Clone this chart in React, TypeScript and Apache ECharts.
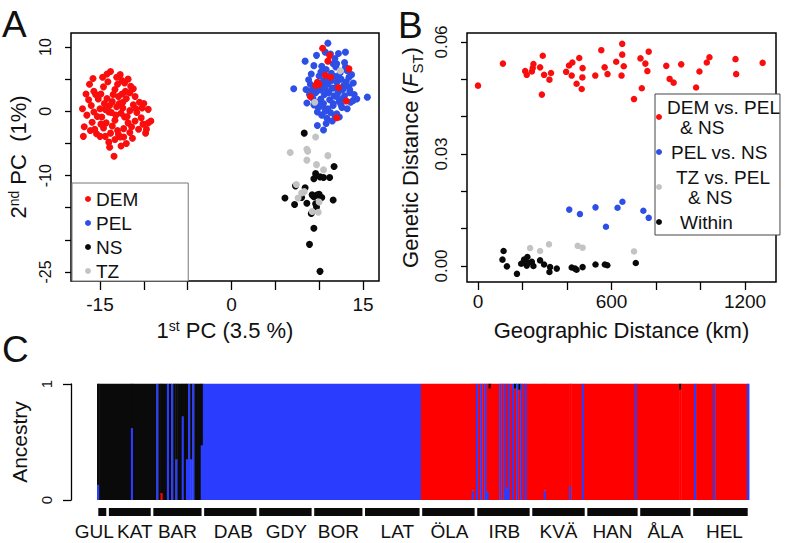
import React, { useEffect, useRef } from 'react';
import * as echarts from 'echarts';

const FONT = "'Liberation Sans', Arial, Helvetica, sans-serif";
const TXT = '#111111';
const RED = '#f90d0d';
const BLUE = '#2e4fe6';
const BLACK = '#0a0a0a';
const GREY = '#c2c4c4';
const BAR_BLUE = '#2a3dff';
const BAR_RED = '#ff0000';
const BAR_BLACK = '#0a0a0a';

// ---------- Panel A: PCA ----------
const pcDEM: number[][] = [
  [-13.8, 6.2], [-12.7, 5.7], [-12.5, 4.8], [-15.8, 5.1], [-16.2, 4.2], [-15.7, 3.1], [-17.0, 0.4], [-16.8, -2.4],
  [-16.9, -3.9], [-13.4, -7.0], [-14.0, -4.8], [-11.2, 3.5], [-10.0, 1.2], [-9.2, -1.5], [-9.5, -1.8], [-9.7, -2.8],
  [-9.8, -3.4], [-12.3, -4.0], [-15.4, -3.5], [-15.0, -3.9], [-15.9, -1.7], [-12.3, -2.7], [-12.7, -4.0], [-11.4, -2.4],
  [-10.3, -1.0], [-10.5, 1.4], [-11.6, 2.9], [-14.6, 3.8], [-13.3, 3.4], [-14.2, 2.0], [-16.3, 1.8], [-15.7, -0.1],
  [-14.8, -0.9], [-14.0, -0.1], [-13.1, 0.7], [-12.4, 1.4], [-11.6, 0.1], [-12.2, -0.9], [-13.3, -1.4], [-13.6, 1.5],
  [-12.9, 2.3], [-12.0, 2.0], [-11.2, 1.0], [-10.8, -0.2], [-11.0, -1.5], [-11.8, -1.8], [-12.6, -0.3], [-13.9, 0.9],
  [-14.5, 1.2], [-15.2, 1.9], [-15.0, 0.4], [-14.3, -1.8], [-13.6, -2.3], [-13.0, -3.0], [-12.9, -3.6], [-13.8, -3.4],
  [-14.6, -2.6], [-15.3, -0.8], [-16.0, 0.9], [-16.5, -0.6], [-11.5, 3.9], [-12.1, 3.1], [-13.0, 4.2], [-14.1, 4.6],
  [-14.9, 2.7], [-13.5, 2.6], [-12.4, 0.5], [-11.9, -0.8], [-10.9, 0.4], [-10.1, -2.0], [-10.6, -2.8], [-11.6, -3.3],
  [-12.0, -5.0], [-13.3, -4.4], [-14.4, -3.9], [-14.9, -2.0], [-13.2, -0.6], [-12.8, 1.2], [-13.7, -0.2], [-14.4, 0.3],
  [-12.5, 2.7], [-11.0, 2.3], [-15.5, 2.6], [-14.7, 5.3], [-13.1, 5.3], [-12.2, 4.4], [-16.6, 2.7], [-15.6, -2.8],
  [-11.3, -4.2], [-9.5, 0.3], [-10.2, 0.5], [-13.9, -5.6], [-12.6, -5.4], [-16.1, -3.0], [-14.2, 5.8], [-11.8, 5.0],
  [10.4, 9.8], [11.2, 8.7], [11.0, 7.8], [9.8, 4.5], [10.0, 4.2], [9.0, 2.3], [10.7, 5.6], [11.3, 5.3],
  [12.2, 3.7], [13.4, 6.6], [13.1, 1.6], [12.0, -1.0], [9.6, 4.0],
];
const pcPEL: number[][] = [
  [11.0, 10.6], [9.7, 8.7], [8.4, 7.8], [12.2, 9.0], [13.0, 9.2], [9.4, 7.1], [7.1, 3.5], [15.5, 2.2],
  [8.6, 1.3], [13.9, 1.7], [13.4, 3.8], [9.8, -0.1], [10.3, -0.6], [10.9, -1.1], [11.5, -1.5], [9.8, -2.2],
  [10.5, -2.9], [8.8, 4.9], [9.0, 4.2], [11.8, 8.2], [13.0, 6.9], [13.4, 5.3], [13.2, 6.3], [11.9, 6.9],
  [11.6, 7.4], [10.0, 5.5], [10.5, 4.8], [11.0, 4.2], [11.5, 3.6], [12.0, 4.5], [12.5, 5.0], [12.8, 4.0],
  [12.2, 3.0], [11.7, 2.4], [11.2, 1.8], [10.6, 2.6], [10.1, 3.3], [9.6, 2.9], [9.3, 2.0], [9.9, 1.4],
  [10.4, 0.8], [11.0, 0.4], [11.6, 0.9], [12.3, 1.5], [12.9, 2.4], [13.5, 2.9], [12.6, 0.6], [12.0, -0.4],
  [11.3, -0.2], [10.7, 0.0], [10.2, 1.9], [9.5, 3.8], [10.3, 4.0], [10.9, 3.1], [11.4, 4.8], [11.9, 5.4],
  [12.4, 6.0], [12.7, 3.4], [13.1, 4.6], [12.1, 2.2], [11.1, 2.9], [10.6, 3.7], [9.2, 3.3], [8.9, 2.6],
  [8.5, 3.4], [12.5, 1.0], [13.6, 1.4], [14.3, 1.9], [14.0, 2.6], [13.9, 4.4], [12.0, 7.4], [10.8, 6.5],
  [10.3, 7.0], [10.2, 6.1], [12.9, 7.6], [11.4, 5.9], [12.3, -0.9], [11.8, -0.7], [9.9, 0.6], [9.4, 1.0],
  [13.2, 0.4], [13.7, 5.7], [10.7, 9.2], [11.3, 8.9], [9.1, 5.8], [11.6, 1.2], [12.8, 2.0], [11.0, 5.0],
  [10.5, 1.2], [12.2, 5.4], [13.5, 3.3], [10.8, -1.9], [11.9, 3.6],
];
const pcNS: number[][] = [
  [8.3, -3.4], [11.7, -8.6], [9.6, -9.7], [9.4, -10.5], [10.1, -10.2], [10.5, -10.3], [11.2, -10.3], [7.3, -11.6],
  [8.4, -11.9], [6.1, -13.5], [7.2, -14.5], [8.0, -13.4], [8.6, -14.3], [9.2, -13.0], [9.4, -13.3], [9.6, -14.4],
  [10.3, -13.4], [11.6, -13.8], [9.1, -15.9], [9.4, -18.2], [8.9, -20.7], [10.1, -24.9], [9.8, -13.0], [9.7, -14.9],
  [10.0, -12.9],
];
const pcTZ: number[][] = [
  [9.6, -4.0], [6.7, -6.4], [8.6, -5.9], [8.7, -6.2], [8.6, -7.6], [11.0, -6.9], [9.7, -8.3], [10.5, -9.1],
  [7.4, -11.4], [8.3, -12.5], [8.0, -12.7], [7.6, -13.5], [10.0, -14.1], [9.2, -15.6], [9.9, -15.7], [9.5, 1.4],
  [12.4, 6.3],
];
const pcXTicks = [-15, -10, -5, 0, 5, 10, 15];
const pcXLabels = [-15, 0, 15];
const pcYTicks = [-25, -20, -15, -10, -5, 0, 5, 10];
const pcYLabels = [-25, -10, 0, 10];

// ---------- Panel B: FST vs distance ----------
const fstDEM: number[][] = [
  [0, 0.0483], [112, 0.0542], [212, 0.0522], [219, 0.0512], [242, 0.0521], [249, 0.0541], [246, 0.053], [279, 0.0532],
  [291, 0.0563], [287, 0.0459], [297, 0.0512], [321, 0.0499], [328, 0.0517], [396, 0.052], [409, 0.0537], [424, 0.0545],
  [421, 0.051], [443, 0.0488], [455, 0.0557], [466, 0.0474], [470, 0.053], [469, 0.0505], [527, 0.051], [554, 0.0578],
  [569, 0.0532], [582, 0.0514], [621, 0.0547], [648, 0.0595], [648, 0.0566], [655, 0.0535], [645, 0.051], [701, 0.0447],
  [730, 0.0556], [736, 0.0476], [752, 0.0542], [761, 0.0522], [767, 0.0574], [846, 0.0536], [861, 0.0501], [879, 0.0491],
  [913, 0.054], [980, 0.0478], [995, 0.0521], [1028, 0.0545], [1040, 0.0559], [1157, 0.0554], [1160, 0.0514], [1279, 0.0544],
];
const fstPEL: number[][] = [
  [410, 0.0151], [458, 0.0139], [528, 0.0157], [575, 0.0105], [627, 0.0156], [649, 0.0172], [743, 0.0148], [767, 0.0129],
];
const fstTZ: number[][] = [
  [234, 0.0048], [279, 0.004], [319, 0.0058], [448, 0.0054], [470, 0.0049], [701, 0.0039],
];
const fstWithin: number[][] = [
  [115, 0.004], [110, 0.0017], [130, -0.0001], [175, -0.0021], [194, 0.0006], [207, 0.0017], [222, 0.0024], [219, 0.0001],
  [242, 0.0011], [249, 0.0], [279, 0.0015], [297, 0.0004], [324, -0.0003], [321, -0.0016], [354, -0.0007], [421, -0.0004],
  [436, -0.0007], [443, -0.001], [470, -0.0003], [528, 0.0004], [570, 0.0004], [581, 0.0002], [709, 0.0008], [204, 0.001],
  [226, 0.0008],
];
const kmTicks = [0, 200, 400, 600, 800, 1000, 1200];
const kmLabels = [0, 600, 1200];
const fstTicks = [0, 0.01, 0.02, 0.03, 0.04, 0.05, 0.06];
const fstLabels = [0, 0.03, 0.06];

// ---------- Panel C: ancestry ----------
const popNames = ['GUL', 'KAT', 'BAR', 'DAB', 'GDY', 'BOR', 'LAT', 'ÖLA', 'IRB', 'KVÄ', 'HAN', 'ÅLA', 'HEL'];
const popSizes = [5, 21, 24, 26, 26, 24, 27, 26, 26, 26, 25, 25, 27];
// runs of consecutive individuals: [count, PEL (blue), DEM (red), NS (black)]
const ancestryRuns: number[][] = [
  [1, 0.13, 0, 0.87], [15, 0, 0, 1], [1, 0.62, 0, 0.38], [11, 0, 0, 1], [1, 1, 0, 0], [1, 0, 0, 1],
  [1, 0, 0.06, 0.94], [2, 0, 0, 1], [1, 1, 0, 0], [1, 0, 0, 1], [1, 1, 0, 0], [1, 0, 0, 1],
  [1, 0.35, 0, 0.65], [2, 0, 0, 1], [1, 0.72, 0, 0.28], [1, 0, 0, 1], [1, 0.35, 0, 0.65], [1, 1, 0, 0],
  [1, 0.35, 0, 0.65], [1, 1, 0, 0], [3, 0, 0, 1], [1, 0.47, 0, 0.53],
  [103, 1, 0, 0],
  [24, 0, 1, 0], [1, 0.08, 0.92, 0], [1, 0, 1, 0], [1, 1, 0, 0], [1, 0, 1, 0], [1, 1, 0, 0], [1, 0, 1, 0],
  [1, 1, 0, 0], [1, 0.07, 0.93, 0], [1, 0, 0.96, 0.04], [4, 0, 1, 0], [1, 1, 0, 0], [1, 0, 1, 0], [1, 1, 0, 0],
  [1, 0.1, 0.9, 0], [1, 1, 0, 0], [1, 0, 1, 0], [1, 1, 0, 0], [1, 0, 0.96, 0.04], [1, 1, 0, 0], [1, 0, 0.95, 0.05],
  [1, 1, 0, 0], [1, 0, 1, 0], [1, 1, 0, 0], [8, 0, 1, 0], [1, 0.08, 0.92, 0], [11, 0, 1, 0], [1, 0.12, 0.88, 0],
  [5, 0, 1, 0], [1, 1, 0, 0], [24, 0, 1, 0], [1, 1, 0, 0], [20, 0, 1, 0], [1, 0, 0.95, 0.05], [6, 0, 1, 0],
  [1, 1, 0, 0], [8, 0, 1, 0], [1, 1, 0, 0], [15, 0, 1, 0], [1, 1, 0, 0],
];
const popLabelShift = [-8, 5, 0, 3, 1, 0, 5, 1, 1, 0, 0, 0, 4];

export default function App() {
  const ref = useRef<HTMLDivElement>(null);
  useEffect(() => {
    if (!ref.current) return;
    const chart = echarts.init(ref.current, null, { renderer: 'svg' });

    const total = popSizes.reduce((a, b) => a + b, 0);
    let s = 0;
    const ancestryData = ancestryRuns.map((r) => {
      const row = [s, s + r[0], r[1], r[2], r[3]];
      s += r[0];
      return row;
    });
    let g = 0;
    const popData = popSizes.map((n, i) => {
      const row = [g, g + n, i];
      g += n;
      return row;
    });

    const tickStyle = { color: '#000', width: 1.3 };
    const labelBase = { color: TXT, fontFamily: FONT };
    const richTitle = (size: number) => ({
      a: { fontSize: size, fontFamily: FONT, color: TXT, lineHeight: size },
      s: { fontSize: Math.round(size * 0.62), fontFamily: FONT, color: TXT, verticalAlign: 'top', lineHeight: size },
      i: { fontSize: size, fontFamily: FONT, color: TXT, fontStyle: 'italic', lineHeight: size },
      b: { fontSize: Math.round(size * 0.68), fontFamily: FONT, color: TXT, verticalAlign: 'bottom', lineHeight: size, padding: [0, 0, -4, 0] },
    });

    const legendB: Record<string, string> = {
      'DEM vs. PEL & NS': '{l0|DEM vs. PEL}\n{l2|& NS}',
      'PEL vs. NS': '{l1|PEL vs. NS}',
      'TZ vs. PEL & NS': '{l3|TZ vs. PEL}\n{l4|& NS}',
      Within: '{l5|Within}',
    };
    const lrich = (pad: number) => ({ fontSize: 19, lineHeight: 20, fontFamily: FONT, color: TXT, padding: [0, 0, 0, pad] });

    const option: any = {
      animation: false,
      backgroundColor: '#ffffff',
      grid: [
        { left: 71, top: 33, width: 308, height: 248, show: true, borderColor: '#000', borderWidth: 1.5, backgroundColor: 'transparent', containLabel: false, outerBoundsMode: 'none' },
        { left: 467, top: 33, width: 309, height: 249, show: true, borderColor: '#000', borderWidth: 1.5, backgroundColor: 'transparent', containLabel: false, outerBoundsMode: 'none' },
        { left: 97, top: 384, width: 652, height: 116, containLabel: false, outerBoundsMode: 'none' },
      ],
      xAxis: [
        {
          gridIndex: 0, type: 'value', min: -18.31, max: 16.83,
          splitLine: { show: false }, axisLine: { show: false, onZero: false },
          axisTick: { show: true, customValues: pcXTicks, length: 9, lineStyle: tickStyle },
          axisLabel: { customValues: pcXLabels, margin: 14, fontSize: 19, formatter: (v: number) => String(v), ...labelBase },
          name: '{a|1}{s|st}{a| PC (3.5 %)}', nameLocation: 'middle', nameGap: 38, nameMoveOverlap: false,
          nameTextStyle: { rich: richTitle(22) },
        },
        {
          gridIndex: 1, type: 'value', min: -49.4, max: 1339,
          splitLine: { show: false }, axisLine: { show: false, onZero: false },
          axisTick: { show: true, customValues: kmTicks, length: 8, lineStyle: tickStyle },
          axisLabel: { customValues: kmLabels, margin: 10, fontSize: 19, formatter: (v: number) => String(v), ...labelBase },
          name: 'Geographic Distance (km)', nameLocation: 'middle', nameGap: 37, nameMoveOverlap: false,
          nameTextStyle: { fontSize: 22, fontFamily: FONT, color: TXT },
        },
        { gridIndex: 2, type: 'value', min: 0, max: total, show: false },
      ],
      yAxis: [
        {
          gridIndex: 0, type: 'value', min: -26.4, max: 12.18,
          splitLine: { show: false }, axisLine: { show: false, onZero: false },
          axisTick: { show: true, customValues: pcYTicks, length: 6, lineStyle: tickStyle },
          axisLabel: { customValues: pcYLabels, margin: 18, fontSize: 16, rotate: 90, formatter: (v: number) => String(v), ...labelBase },
          name: '{a|2}{s|nd}{a| PC  (1%)}', nameLocation: 'middle', nameGap: 42, nameRotate: 90, nameMoveOverlap: false,
          nameTextStyle: { rich: richTitle(22) },
        },
        {
          gridIndex: 1, type: 'value', min: -0.00429, max: 0.0624,
          splitLine: { show: false }, axisLine: { show: false, onZero: false },
          axisTick: { show: true, customValues: fstTicks, length: 6, lineStyle: tickStyle },
          axisLabel: { customValues: fstLabels, margin: 17, fontSize: 17, rotate: 90, formatter: (v: number) => v.toFixed(2), ...labelBase },
          name: '{a|Genetic Distance (}{i|F}{b|ST}{a|)}', nameLocation: 'middle', nameGap: 46, nameRotate: 90, nameMoveOverlap: false,
          nameTextStyle: { rich: richTitle(22) },
        },
        {
          gridIndex: 2, type: 'value', min: 0, max: 1, interval: 1, offset: 26,
          splitLine: { show: false }, axisLine: { show: true, onZero: false, lineStyle: tickStyle },
          axisTick: { show: true, length: 8, lineStyle: tickStyle },
          axisLabel: { margin: 17, fontSize: 15, rotate: 90, ...labelBase },
          name: 'Ancestry', nameLocation: 'middle', nameGap: 41, nameRotate: 90, nameMoveOverlap: false,
          nameTextStyle: { fontSize: 21, fontFamily: FONT, color: TXT },
        },
      ],
      legend: [
        {
          data: ['DEM', 'PEL', 'NS', 'TZ'], orient: 'vertical', left: 72, top: 183,
          padding: [6, 50, 0, 13], itemGap: 4, itemWidth: 6, itemHeight: 6, icon: 'circle',
          textStyle: { fontSize: 19, lineHeight: 20, fontFamily: FONT, color: TXT },
          borderColor: '#777', borderWidth: 1, backgroundColor: '#ffffff', borderRadius: 0, selectedMode: false,
        },
        {
          data: ['DEM vs. PEL & NS', 'PEL vs. NS', 'TZ vs. PEL & NS', 'Within'], orient: 'vertical', left: 655, top: 94,
          padding: [3, 0, 3, 1], itemGap: 5, itemWidth: 6, itemHeight: 6, icon: 'circle',
          formatter: (name: string) => legendB[name] || name,
          textStyle: {
            fontSize: 19, lineHeight: 20, fontFamily: FONT, color: TXT,
            rich: { l0: lrich(0), l1: lrich(4), l2: lrich(13), l3: lrich(9), l4: lrich(21), l5: lrich(13) },
          },
          borderColor: '#444', borderWidth: 1, backgroundColor: '#ffffff', borderRadius: 0, selectedMode: false,
        },
      ],
      graphic: [
        { type: 'text', left: 2, top: 6, style: { text: 'A', fontSize: 37, fontFamily: FONT, fill: TXT } },
        { type: 'text', left: 398, top: 7, style: { text: 'B', fontSize: 37, fontFamily: FONT, fill: TXT } },
        { type: 'text', left: 2, top: 331, style: { text: 'C', fontSize: 37, fontFamily: FONT, fill: TXT } },
      ],
      series: [
        { type: 'scatter', name: 'PEL', xAxisIndex: 0, yAxisIndex: 0, data: pcPEL, symbolSize: 7, itemStyle: { color: BLUE, opacity: 1 }, silent: true },
        { type: 'scatter', name: 'NS', xAxisIndex: 0, yAxisIndex: 0, data: pcNS, symbolSize: 7, itemStyle: { color: BLACK, opacity: 1 }, silent: true },
        { type: 'scatter', name: 'TZ', xAxisIndex: 0, yAxisIndex: 0, data: pcTZ, symbolSize: 7, itemStyle: { color: GREY, opacity: 1 }, silent: true },
        { type: 'scatter', name: 'DEM', xAxisIndex: 0, yAxisIndex: 0, data: pcDEM, symbolSize: 7, itemStyle: { color: RED, opacity: 1 }, silent: true },
        { type: 'scatter', name: 'DEM vs. PEL & NS', xAxisIndex: 1, yAxisIndex: 1, data: fstDEM, symbolSize: 6.5, itemStyle: { color: RED, opacity: 1 }, silent: true },
        { type: 'scatter', name: 'PEL vs. NS', xAxisIndex: 1, yAxisIndex: 1, data: fstPEL, symbolSize: 6.5, itemStyle: { color: BLUE, opacity: 1 }, silent: true },
        { type: 'scatter', name: 'TZ vs. PEL & NS', xAxisIndex: 1, yAxisIndex: 1, data: fstTZ, symbolSize: 6.5, itemStyle: { color: GREY, opacity: 1 }, silent: true },
        { type: 'scatter', name: 'Within', xAxisIndex: 1, yAxisIndex: 1, data: fstWithin, symbolSize: 6.5, itemStyle: { color: BLACK, opacity: 1 }, silent: true },
        {
          type: 'custom', name: 'ancestry', xAxisIndex: 2, yAxisIndex: 2, data: ancestryData, silent: true, clip: false,
          renderItem: (_p: any, api: any) => {
            const x0 = api.value(0), x1 = api.value(1);
            const fr = [api.value(2), api.value(3), api.value(4)];
            const pa = api.coord([x0, 0]);
            const pb = api.coord([x1, 1]);
            const left = pa[0], right = pb[0], bottom = pa[1], top = pb[1];
            const H = bottom - top;
            const cols = [BAR_BLUE, BAR_RED, BAR_BLACK];
            const children: any[] = [];
            let y = bottom;
            for (let k = 0; k < 3; k++) {
              const h = fr[k] * H;
              if (h > 0) {
                children.push({ type: 'rect', shape: { x: left, y: y - h - 0.3, width: right - left + 0.45, height: h + 0.3 }, style: { fill: cols[k] } });
                y -= h;
              }
            }
            return { type: 'group', children };
          },
        },
        {
          type: 'custom', name: 'populations', xAxisIndex: 2, yAxisIndex: 2, data: popData, silent: true, clip: false,
          renderItem: (_p: any, api: any) => {
            const i = api.value(2);
            const a = api.coord([api.value(0), 0]);
            const b = api.coord([api.value(1), 0]);
            return {
              type: 'group',
              children: [
                { type: 'rect', shape: { x: a[0] + 1.3, y: a[1] + 8, width: b[0] - a[0] - 2.6, height: 8 }, style: { fill: '#0a0a0a' } },
                {
                  type: 'text', x: (a[0] + b[0]) / 2 + popLabelShift[i], y: a[1] + 31,
                  style: { text: popNames[i], fill: TXT, fontSize: 19, fontFamily: FONT, align: 'center', verticalAlign: 'middle' },
                },
              ],
            };
          },
        },
      ],
    };
    chart.setOption(option);
    return () => chart.dispose();
  }, []);
  return <div ref={ref} style={{ position: 'fixed', left: 0, top: 0, width: 796, height: 543, background: '#fff' }} />;
}
